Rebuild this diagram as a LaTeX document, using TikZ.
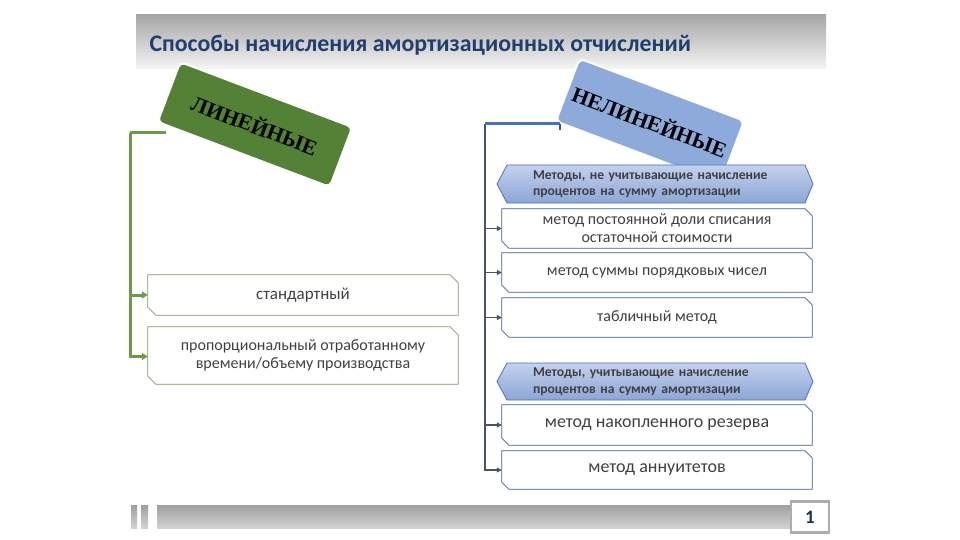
\documentclass[tikz,border=0pt]{standalone}
\usepackage{fontspec}
\setmainfont{Carlito}
\newfontfamily\serifb{Liberation Serif}
\usetikzlibrary{arrows.meta}
\definecolor{titleblue}{HTML}{1F3F6F}
\definecolor{greenbox}{HTML}{538135}
\definecolor{bluebox}{HTML}{8EAADB}
\definecolor{greenline}{HTML}{6F9A45}
\definecolor{greenedge}{HTML}{7F9A65}
\definecolor{blueline}{HTML}{4472C4}
\definecolor{slate}{HTML}{44546A}
\definecolor{boxedge}{HTML}{3F5F8F}
\definecolor{chevtop}{HTML}{C3D1EC}
\definecolor{chevbot}{HTML}{8CA6D6}
\definecolor{txtgray}{HTML}{404040}
\begin{document}
\begin{tikzpicture}[x=1pt,y=-1pt,
  tilted/.style={rounded corners=5pt, draw=white, line width=2pt, rotate=-20.7,
    font=\serifb\bfseries\fontsize{21.5}{21.5}\selectfont, text=black, inner sep=0pt},
  holder/.style={rectangle, inner sep=0pt, align=center, text=txtgray},
  chevtext/.style={rectangle, inner xsep=36pt, inner ysep=0pt, text width=244pt, align=left,
    font=\bfseries\fontsize{13.6}{16.5}\selectfont, text=txtgray},
  chevshape/.style={draw=blueline, line width=0.8pt, top color=chevtop, bottom color=chevbot},
  garrow/.style={draw=greenline, line width=3pt, -{Triangle[length=6pt,width=7pt]}},
  barrow/.style={draw=slate, line width=1.3pt, -{Triangle[length=5pt,width=5pt,fill=blueline]}},
  greysh/.style={top color=gray!75, bottom color=gray!35, draw=none}
]
\useasboundingbox (0,0) rectangle (960,540);
% header
\shade[top color=gray!70, bottom color=gray!8] (136,15) rectangle (826,69);
\node[anchor=west, font=\bfseries\fontsize{23.8}{23.8}\selectfont, text=titleblue] (title) at (146,45) {Способы начисления амортизационных отчислений};

% tilted labels
\node[tilted, fill=greenbox, minimum width=184pt, minimum height=64pt] (lin) at (255,124.5) {ЛИНЕЙНЫЕ};
\node[tilted, fill=bluebox, minimum width=176pt, minimum height=67pt] (nonlin) at (650,121) {НЕЛИНЕЙНЫЕ};

% left connectors
\coordinate (lt) at (166,133);
\coordinate (lc) at (130,133);
\draw[draw=greenline, line width=3pt] (lt) -- (lc);

% left boxes
\node[holder, minimum width=310pt, minimum height=40pt, font=\fontsize{17}{19}\selectfont] (s1) at (303,295) {стандартный};
\node[holder, minimum width=310pt, minimum height=57pt, font=\fontsize{16}{18.5}\selectfont] (s2) at (303,355.5) {пропорциональный отработанному\\времени/объему производства};
\foreach \n in {s1,s2}{
  \draw[draw=greenedge, line width=0.8pt]
    (\n.north west) -- ([xshift=-8pt]\n.north east) -- ([yshift=-8pt]\n.north east)
    -- (\n.south east) -- ([xshift=8pt]\n.south west) -- ([yshift=8pt]\n.south west) -- cycle;
}
\draw[garrow] (lc) |- (s1.west);
\draw[garrow] (lc) |- ([yshift=-1pt]s2.west);

% right chevrons (shapes, then their texts)
\path[chevshape] (507,165) -- (805,165) -- (813,184) -- (805,203) -- (507,203) -- (497,184) -- cycle;
\path[chevshape] (507,363) -- (805,363) -- (813,381.5) -- (805,400) -- (507,400) -- (497,381.5) -- cycle;
\node[chevtext, minimum width=316pt, minimum height=38pt] (c1) at (655,184) {Методы, не учитывающие начисление\\процентов на сумму амортизации};
\node[chevtext, minimum width=316pt, minimum height=37pt] (c2) at (655,381.5) {Методы, учитывающие начисление\\процентов на сумму амортизации};

% right boxes
\node[holder, minimum width=310pt, minimum height=39pt, font=\fontsize{16}{18}\selectfont] (m1) at (657,228.5) {метод постоянной доли списания\\остаточной стоимости};
\node[holder, minimum width=310pt, minimum height=39pt, font=\fontsize{16}{18}\selectfont] (m2) at (657,272.5) {метод суммы порядковых чисел};
\node[holder, minimum width=310pt, minimum height=39pt, font=\fontsize{16}{18}\selectfont] (m3) at (657,317.5) {табличный метод};
\node[holder, minimum width=310pt, minimum height=40pt, font=\fontsize{18}{20}\selectfont] (m4) at (657,425) {метод накопленного резерва};
\node[holder, minimum width=310pt, minimum height=38pt, font=\fontsize{18}{20}\selectfont] (m5) at (657,470) {метод аннуитетов};
\foreach \n in {m1,m2,m3,m4,m5}{
  \draw[draw=boxedge, line width=0.8pt]
    (\n.north west) -- ([xshift=-7pt]\n.north east) -- ([yshift=-7pt]\n.north east)
    -- (\n.south east) -- ([xshift=7pt]\n.south west) -- ([yshift=7pt]\n.south west) -- cycle;
}

% right connectors
\coordinate (rt) at (560,124);
\coordinate (rtick) at (560,130);
\coordinate (rc) at (485,124);
\foreach \n in {m1,m2,m3,m4,m5}{
  \draw[barrow] (rc) |- (\n.west);
}
\draw[draw=blueline, line width=3pt] (rt) -- (rc);
\draw[draw=slate, line width=1.2pt] (rt) -- (rtick);

% footer
\shade[greysh] (131,505) rectangle (137,528);
\shade[greysh] (141,505) rectangle (148,528);
\shade[greysh] (157,505) rectangle (791,528);
\node[draw=gray!65, line width=2.5pt, fill=white, minimum width=38pt, minimum height=31pt, inner sep=0pt,
  font=\bfseries\fontsize{19}{19}\selectfont, text=titleblue!80!black] (pg) at (810,517) {1};
\end{tikzpicture}
\end{document}
